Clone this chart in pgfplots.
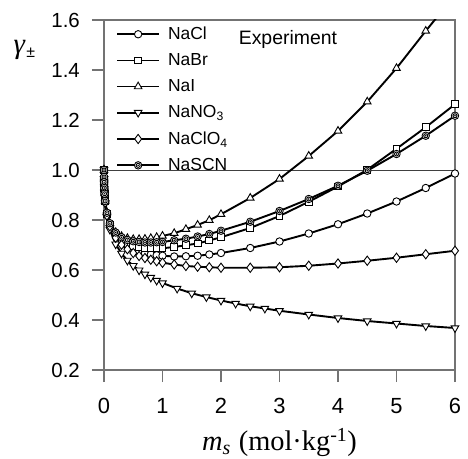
\documentclass[border=0pt]{standalone}
\usepackage{fontspec}
\setmainfont{Liberation Sans}
\newfontfamily\serif{Liberation Serif}
\usepackage{pgfplots}
\pgfplotsset{compat=1.18}
\usepackage{pgfplotstable}

\pgfdeclareplotmark{odot}{%
  \pgfscope
  \pgfpathcircle{\pgfpointorigin}{\pgfplotmarksize}\pgfusepathqfillstroke
  \pgfpathcircle{\pgfpointorigin}{0.55\pgfplotmarksize}\pgfusepathqstroke
  \pgfsetfillcolor{black}%
  \pgfpathcircle{\pgfpointorigin}{0.22\pgfplotmarksize}\pgfusepathqfill
  \endpgfscope}

\pgfplotstableread{
m g
0 1.000
0.001 0.965
0.002 0.952
0.005 0.928
0.01 0.903
0.02 0.872
0.05 0.821
0.1 0.778
0.2 0.735
0.3 0.710
0.4 0.693
0.5 0.681
0.6 0.673
0.7 0.667
0.8 0.662
0.9 0.659
1.0 0.657
1.2 0.654
1.4 0.655
1.6 0.657
1.8 0.662
2.0 0.668
2.5 0.688
3.0 0.714
3.5 0.746
4.0 0.783
4.5 0.826
5.0 0.874
5.5 0.928
6.0 0.986
}\NaCl

\pgfplotstableread{
m g
0 1.000
0.001 0.965
0.002 0.952
0.005 0.928
0.01 0.904
0.02 0.874
0.05 0.825
0.1 0.782
0.2 0.741
0.3 0.719
0.4 0.704
0.5 0.697
0.6 0.692
0.7 0.689
0.8 0.687
0.9 0.687
1.0 0.687
1.2 0.692
1.4 0.699
1.6 0.706
1.8 0.718
2.0 0.731
2.5 0.768
3.0 0.816
3.5 0.873
4.0 0.934
4.5 1.001
5.0 1.085
5.5 1.171
6.0 1.263
}\NaBr

\pgfplotstableread{
m g
0 1.000
0.001 0.965
0.002 0.953
0.005 0.930
0.01 0.906
0.02 0.876
0.05 0.830
0.1 0.787
0.2 0.751
0.3 0.735
0.4 0.727
0.5 0.723
0.6 0.723
0.7 0.724
0.8 0.727
0.9 0.731
1.0 0.736
1.2 0.747
1.4 0.763
1.6 0.780
1.8 0.799
2.0 0.823
2.5 0.888
3.0 0.964
3.5 1.056
4.0 1.156
4.5 1.273
5.0 1.407
5.5 1.556
6.0 1.700
}\NaI

\pgfplotstableread{
m g
0 1.000
0.001 0.965
0.002 0.951
0.005 0.926
0.01 0.900
0.02 0.868
0.05 0.815
0.1 0.762
0.2 0.703
0.3 0.666
0.4 0.638
0.5 0.617
0.6 0.599
0.7 0.583
0.8 0.570
0.9 0.558
1.0 0.548
1.25 0.526
1.5 0.507
1.75 0.492
2.0 0.478
2.25 0.466
2.5 0.455
2.75 0.446
3.0 0.437
3.5 0.422
4.0 0.408
4.5 0.396
5.0 0.386
5.5 0.376
6.0 0.368
}\NaNO

\pgfplotstableread{
m g
0 1.000
0.001 0.965
0.002 0.952
0.005 0.927
0.01 0.902
0.02 0.870
0.05 0.818
0.1 0.775
0.2 0.729
0.3 0.701
0.4 0.683
0.5 0.668
0.6 0.656
0.7 0.648
0.8 0.641
0.9 0.635
1.0 0.629
1.2 0.622
1.4 0.616
1.6 0.613
1.8 0.611
2.0 0.609
2.5 0.609
3.0 0.611
3.5 0.617
4.0 0.626
4.5 0.637
5.0 0.649
5.5 0.663
6.0 0.677
}\NaClO

\pgfplotstableread{
m g
0 1.000
0.001 0.972
0.002 0.951
0.005 0.928
0.01 0.905
0.02 0.876
0.05 0.829
0.1 0.787
0.2 0.750
0.3 0.731
0.4 0.720
0.5 0.715
0.6 0.712
0.7 0.710
0.8 0.710
0.9 0.711
1.0 0.712
1.2 0.719
1.4 0.725
1.6 0.734
1.8 0.744
2.0 0.757
2.5 0.793
3.0 0.836
3.5 0.884
4.0 0.937
4.5 0.997
5.0 1.064
5.5 1.137
6.0 1.217
}\NaSCN

\begin{document}
\begin{tikzpicture}
\path[use as bounding box] (-104bp,-89bp) rectangle (364bp,370bp);
\begin{axis}[
  at={(0,0)}, anchor=origin,
  scale only axis, width=351bp, height=350bp,
  xmin=0, xmax=6, ymin=0.2, ymax=1.6,
  xtick={0,1,...,6},
  ytick={0.2,0.4,...,1.6},
  tick align=outside,
  xtick pos=bottom, ytick pos=left,
  major tick length=12bp,
  axis line style={draw=black!55, line width=1.1bp},
  every tick/.style={draw=black!55, line width=1.1bp},
  /pgf/number format/assume math mode=true,
  xticklabel style={font=\fontsize{22}{24}\selectfont, inner sep=0pt, yshift=-16bp},
  yticklabel style={font=\fontsize{20.5}{22}\selectfont, inner sep=0pt, xshift=-12bp,
    /pgf/number format/.cd, fixed, fixed zerofill, precision=1},
  xlabel={{\serif\itshape m}\textsubscript{\serif\itshape s} {\serif (mol·kg\textsuperscript{-1})}},
  xlabel style={font=\fontsize{28.5}{30}\selectfont, at={(axis description cs:0.5,-0.231)}, anchor=base, inner sep=0pt},
  ylabel={{\serif\itshape γ}\kern1.5bp\raisebox{-4bp}{\fontsize{16}{16}\selectfont ±}},
  ylabel style={font=\fontsize{29}{30}\selectfont, rotate=-90, at={(axis description cs:-0.227,0.914)}, anchor=center, inner sep=0pt},
  legend style={at={(axis description cs:0,1)}, anchor=north west, xshift=12bp, yshift=-5bp,
    draw=none, fill=none, font=\fontsize{17.5}{19}\selectfont, row sep=8.5bp, inner sep=0pt,
    /tikz/every odd column/.append style={column sep=6bp}},
  legend cell align=left,
  legend image code/.code={\draw[mark repeat=2,mark phase=2,#1] plot coordinates {(0bp,0bp) (21bp,0bp) (42bp,0bp)};},
  every axis plot/.append style={black, line width=1.9bp},
]
\addplot[forget plot, draw=black!75, line width=0.8bp] coordinates {(0,1) (6,1)};
\addplot[mark=*, mark size=3.7bp, mark options={solid, draw=black, fill=white, line width=0.9bp}] table[x=m,y=g] {\NaCl};
\addlegendentry{NaCl}
\addplot[mark=square*, mark size=3.4bp, mark options={solid, draw=black, fill=white, line width=0.9bp}] table[x=m,y=g] {\NaBr};
\addlegendentry{NaBr}
\addplot[mark=triangle*, mark size=4.4bp, mark options={solid, draw=black, fill=white, line width=0.9bp}] table[x=m,y=g] {\NaI};
\addlegendentry{NaI}
\addplot[mark=triangle*, mark size=4.4bp, mark options={solid, draw=black, fill=white, line width=0.9bp, rotate=180}] table[x=m,y=g] {\NaNO};
\addlegendentry{NaNO\textsubscript{3}}
\addplot[mark=diamond*, mark size=4.6bp, mark options={solid, draw=black, fill=white, line width=0.9bp}] table[x=m,y=g] {\NaClO};
\addlegendentry{NaClO\textsubscript{4}}
\addplot[mark=odot, mark size=3.7bp, mark options={solid, draw=black, fill=white, line width=0.9bp}] table[x=m,y=g] {\NaSCN};
\addlegendentry{NaSCN}
\node[font=\fontsize{19.5}{21}\selectfont, anchor=base] at (axis description cs:0.524,0.9306) {Experiment};
\end{axis}
\end{tikzpicture}
\end{document}
